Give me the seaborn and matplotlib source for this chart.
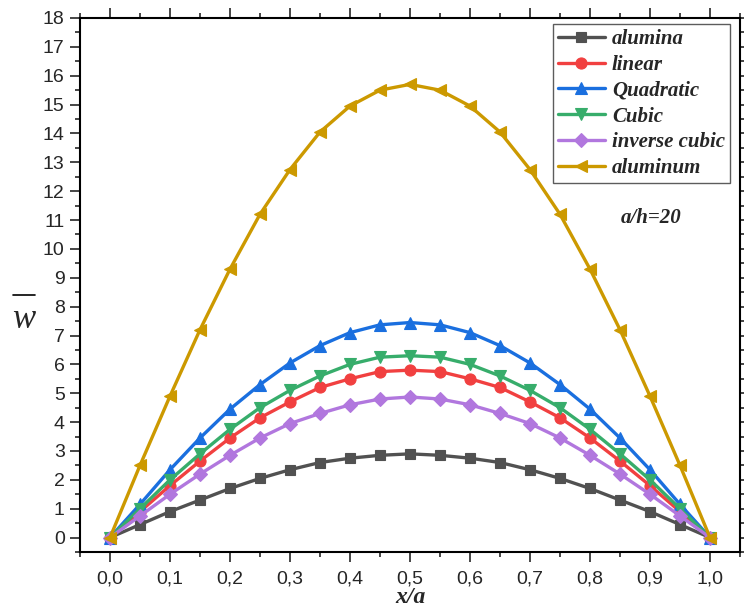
import matplotlib
matplotlib.use("Agg")
import matplotlib.pyplot as plt
from matplotlib.lines import Line2D
import seaborn as sns
import numpy as np
import pandas as pd
from matplotlib.ticker import MultipleLocator, FuncFormatter

x_vals = [0.0, 0.05, 0.1, 0.15, 0.2, 0.25, 0.3, 0.35, 0.4, 0.45, 0.5,
          0.55, 0.6, 0.65, 0.7, 0.75, 0.8, 0.85, 0.9, 0.95, 1.0]

alumina = [0, 0.45, 0.9, 1.3, 1.7, 2.05, 2.35, 2.6, 2.75, 2.85, 2.9,
           2.85, 2.75, 2.6, 2.35, 2.05, 1.7, 1.3, 0.9, 0.45, 0]
linear = [0, 0.9, 1.8, 2.65, 3.45, 4.15, 4.7, 5.2, 5.5, 5.75, 5.8,
          5.75, 5.5, 5.2, 4.7, 4.15, 3.45, 2.65, 1.8, 0.9, 0]
quadratic = [0, 1.15, 2.35, 3.45, 4.45, 5.3, 6.05, 6.65, 7.1, 7.37, 7.45,
             7.37, 7.1, 6.65, 6.05, 5.3, 4.45, 3.45, 2.35, 1.15, 0]
cubic = [0, 1.0, 2.0, 2.9, 3.75, 4.5, 5.1, 5.6, 6.0, 6.25, 6.3,
         6.25, 6.0, 5.6, 5.1, 4.5, 3.75, 2.9, 2.0, 1.0, 0]
inverse_cubic = [0, 0.75, 1.5, 2.2, 2.85, 3.45, 3.95, 4.3, 4.6, 4.8, 4.87,
                 4.8, 4.6, 4.3, 3.95, 3.45, 2.85, 2.2, 1.5, 0.75, 0]
aluminum = [0, 2.5, 4.9, 7.2, 9.3, 11.2, 12.75, 14.05, 14.95, 15.5, 15.7,
            15.5, 14.95, 14.05, 12.75, 11.2, 9.3, 7.2, 4.9, 2.5, 0]

series_names = ["alumina", "linear", "Quadratic", "Cubic", "inverse cubic", "aluminum"]
series_values = [alumina, linear, quadratic, cubic, inverse_cubic, aluminum]
colors = ["#515151", "#F14040", "#1A6FDF", "#37AD6B", "#B177DE", "#CC9900"]
markers = ["s", "o", "^", "v", "D", "<"]
msizes = [7, 8, 8.5, 8.5, 7, 8.5]

sns.set_style("ticks")
plt.rcParams["font.family"] = ["Liberation Sans", "DejaVu Sans"]

fig = plt.figure(figsize=(7.44, 6.11), dpi=100)
ax = fig.add_axes([80 / 744, 1 - 552 / 611, 660 / 744, 534 / 611])

for name, vals, c, m, ms in zip(series_names, series_values, colors, markers, msizes):
    df = pd.DataFrame({"x": x_vals, "y": vals})
    sns.lineplot(data=df, x="x", y="y", ax=ax, color=c, marker=m, markersize=ms,
                 markeredgecolor=c, markeredgewidth=0.8, linewidth=2.4, label=name,
                 zorder=3)

ax.set_xlim(-0.05, 1.05)
ax.set_ylim(-0.5, 18)
ax.xaxis.set_major_locator(MultipleLocator(0.1))
ax.xaxis.set_minor_locator(MultipleLocator(0.05))
ax.yaxis.set_major_locator(MultipleLocator(1))
ax.yaxis.set_minor_locator(MultipleLocator(0.5))
ax.xaxis.set_major_formatter(FuncFormatter(lambda v, p: f"{v:.1f}".replace(".", ",")))
ax.yaxis.set_major_formatter(FuncFormatter(lambda v, p: f"{v:.0f}"))

for s in ax.spines.values():
    s.set_visible(True)
    s.set_linewidth(1.5)
    s.set_color("black")

ax.tick_params(which="major", direction="out", length=7, width=1.2, labelsize=14,
               top=True, right=True, labeltop=False, labelright=False)
ax.tick_params(which="minor", direction="out", length=3.5, width=1.2,
               top=True, right=True)
ax.tick_params(axis="x", which="major", pad=6)
ax.tick_params(axis="y", which="major", pad=4)

ax.set_xlabel("x/a", fontsize=17, fontweight="bold", fontstyle="italic",
              family=["Liberation Serif"], va="center")
ax.xaxis.set_label_coords(0.5, -0.086)
ax.set_ylabel("")

# y-axis label: italic w with a bar above it
fig.text(24 / 744, 1 - 328 / 611, "w", fontsize=25, fontstyle="italic",
         family=["Liberation Serif"], ha="center", va="baseline")
fig.add_artist(Line2D([13 / 744, 35 / 744], [1 - 295 / 611, 1 - 295 / 611],
                      transform=fig.transFigure, color="black", linewidth=1.2))

leg = ax.legend(loc="upper right", bbox_to_anchor=(0.985, 0.989), frameon=True,
                fancybox=False, handlelength=2.25, borderpad=0.25, labelspacing=0.28,
                handletextpad=0.35, borderaxespad=0.0,
                prop={"family": "Liberation Serif", "weight": "bold",
                      "style": "italic", "size": 15})
leg.get_frame().set_edgecolor("#333333")
leg.get_frame().set_linewidth(1.0)

ax.text(0.902, 11.07, "a/h=20", fontsize=15, fontweight="bold", fontstyle="italic",
        family=["Liberation Serif"], ha="center", va="center")

fig.savefig("out.png", dpi=100)
